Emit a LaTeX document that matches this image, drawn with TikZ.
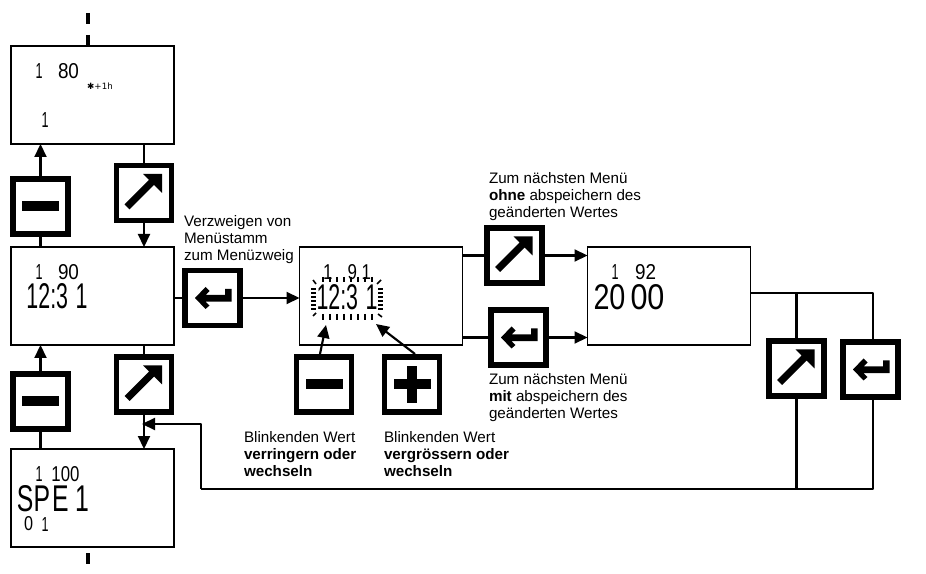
\documentclass[tikz,border=0pt]{standalone}
\usepackage{fontspec}
\usepackage{graphicx}
\usetikzlibrary{arrows.meta}
\setmainfont{Liberation Sans}
\newfontfamily\lcdf{Liberation Sans}
\newfontfamily\symf{DejaVu Sans}
\newlength{\px}\setlength{\px}{0.75pt}
\newcommand{\lcd}[6]{\node[lcdtxt] (#1) at (#2,#3) {\resizebox{#4\px}{#5\px}{\lcdf #6}};}
\tikzset{
  x=0.75pt,y=-0.75pt,
  screen/.style={draw=black,line width=1.1pt,fill=white,minimum width=122.25pt,minimum height=73.5pt,inner sep=0,outer sep=0},
  btn/.style={draw=black,line width=4.1pt,fill=white,minimum width=41.25pt,minimum height=41.25pt,inner sep=0,outer sep=0},
  wire/.style={draw=black,line width=1.6pt},
  arr/.style={wire,-{Triangle[length=9.75pt,width=9pt]}},
  lcdtxt/.style={inner sep=0,outer sep=0},
  note/.style={anchor=north west,inner sep=0,outer sep=0,align=left,font=\fontsize{11.4}{12.75}\selectfont},
  tick/.style={draw=black,line width=1.2pt},
  pics/minusicon/.style={code={\fill[black] (-18.5,-5) rectangle (18.5,5);}},
  pics/plusicon/.style={code={\fill[black] (-18.5,-5) rectangle (18.5,5);\fill[black] (-5,-18.5) rectangle (5,18.5);}},
  pics/upicon/.style={code={
    \fill[black] (18,-19) -- (-1,-19) -- (5,-13) -- (-19.5,11.5) -- (-14.5,16.5) -- (10,-8) -- (18,0) -- cycle;}},
  pics/entericon/.style={code={
    \fill[black] (-17.5,0) -- (-7,-11) -- (-3,-7) -- (-7,-3) -- (12.5,-3) -- (12.5,-9) -- (19,-9) -- (19,3.7) -- (-7,3.7) -- (-3,7.5) -- (-7,11) -- cycle;}}
}
\begin{document}
\begin{tikzpicture}
\useasboundingbox (0,0) rectangle (926,574);
% screens
\node[screen] (s1) at (92.5,95) {};
\node[screen] (s2) at (92.5,296) {};
\node[screen] (s3) at (92.5,498) {};
\node[screen] (s4) at (381,296) {};
\node[screen] (s5) at (669,296) {};
% buttons
\node[btn] (m1) at (40.5,206.5) {};
\node[btn] (u1) at (144,193) {};
\node[btn] (m2) at (40.5,401.5) {};
\node[btn] (u2) at (144,384.5) {};
\node[btn] (e1) at (212.5,298) {};
\node[btn] (m3) at (324,384.5) {};
\node[btn] (p1) at (412,384.5) {};
\node[btn] (u3) at (514.5,255.5) {};
\node[btn] (e2) at (518.5,337.5) {};
\node[btn] (u4) at (796.5,368.5) {};
\node[btn] (e4) at (870.5,369.5) {};
\pic at (m1) {minusicon};
\pic at (m2) {minusicon};
\pic at (m3) {minusicon};
\pic at (p1) {plusicon};
\pic at (u1) {upicon};
\pic at (u2) {upicon};
\pic at (u3) {upicon};
\pic at (u4) {upicon};
\pic at (e1) {entericon};
\pic at (e2) {entericon};
\pic at (e4) {entericon};
% free ends
\coordinate (d1a) at (88,13);
\coordinate (d1b) at (88,24);
\coordinate (d2a) at (88,35);
\coordinate (d3a) at (88,553);
\coordinate (d3b) at (88,564);
\coordinate (busS) at (751,293);
\coordinate (busE) at (873,293);
\coordinate (busB) at (873,489);
\coordinate (busL) at (201,489);
\coordinate (busU) at (201,424);
\coordinate (busT) at (142,424);
\coordinate (m3t) at (320,354);
\coordinate (m3h) at (326,325);
\coordinate (p1t) at (415,354);
\coordinate (p1h) at (376,324);
% connectors
\draw[wire,line width=2.4pt] (d1a) -- (d1b);
\draw[wire,line width=2.4pt] (d2a) -- (d2a |- s1.north);
\draw[wire,line width=2.4pt] (d3a) -- (d3b);
\draw[arr] (m1.north) -- (m1.north |- s1.south);
\draw[wire] (m1.south) -- (m1.south |- s2.north);
\draw[wire] (u1.north) -- (u1.north |- s1.south);
\draw[arr] (u1.south) -- (u1.south |- s2.north);
\draw[arr] (m2.north) -- (m2.north |- s2.south);
\draw[wire] (m2.south) -- (m2.south |- s3.north);
\draw[wire] (u2.north) -- (u2.north |- s2.south);
\draw[arr] (u2.south) -- (u2.south |- s3.north);
\draw[wire] (s2.east |- e1.west) -- (e1.west);
\draw[arr] (e1.east) -- (e1.east -| s4.west);
\draw[arr] (m3t) -- (m3h);
\draw[arr] (p1t) -- (p1h);
\draw[wire] (s4.east |- u3.west) -- (u3.west);
\draw[arr] (u3.east) -- (u3.east -| s5.west);
\draw[wire] (s4.east |- e2.west) -- (e2.west);
\draw[arr] (e2.east) -- (e2.east -| s5.west);
\draw[wire,line join=round] (busS) -- (busE) -- (busE |- e4.north);
\draw[wire] (u4.north |- busS) -- (u4.north);
\draw[wire] (u4.south) -- (u4.south |- busB);
\draw[wire,line join=round] (e4.south -| busB) -- (busB) -- (busL);
\draw[arr,line join=round] (busL) -- (busU) -- (busT);
% LCD readings
\lcd{a1}{39}{71}{7}{15}{1}
\lcd{a2}{68.5}{71}{21}{15}{80}
\node[lcdtxt,font=\symf\fontsize{6.5}{7}\selectfont] (a3) at (100,86) {✱+1h};
\lcd{a4}{45}{120.5}{7}{15}{1}
\lcd{b1}{39}{272}{7}{15}{1}
\lcd{b2}{68.5}{272}{21}{15}{90}
\lcd{b3}{57}{296.5}{61}{25}{12:3\kern0.35em 1}
\lcd{c1}{39}{474}{7}{15}{1}
\lcd{c2}{65.5}{474}{28}{15}{100}
\lcd{c3}{53}{498.5}{72}{26}{SP\kern0.08em E\kern0.27em 1}
\lcd{c4}{28.5}{524}{9}{14}{0}
\lcd{c5}{45}{524}{7}{14}{1}
\lcd{d1}{347}{272}{48}{15}{1\kern0.9em 9\kern0.27em 1}
\lcd{d2}{347}{297}{61}{25}{12:3\kern0.35em 1}
\lcd{f1}{615}{272.5}{7}{15}{1}
\lcd{f2}{645.5}{272.5}{21}{15}{92}
\lcd{f3}{609.5}{297}{32}{25}{20}
\lcd{f4}{647.5}{297}{34}{25}{00}
% blink ticks
\foreach \xx in {323,330,337,344,351,358,365,372} {
  \draw[tick] (\xx,277) -- (\xx,282);
  \draw[tick] (\xx,314) -- (\xx,320);
}
\foreach \yy in {289,293,297,301,305,309} {
  \draw[tick] (311,\yy) -- (316,\yy);
  \draw[tick] (378,\yy) -- (383,\yy);
}
\draw[tick] (313,280) -- (316,284);
\draw[tick] (381,280) -- (377,284);
\draw[tick] (313,316) -- (316,313);
\draw[tick] (378,314) -- (382,317);
% notes
\node[note] (n1) at (184,215) {Verzweigen von\\Menüstamm\\zum Menüzweig};
\node[note] (n2) at (489,172) {Zum nächsten Menü\\\textbf{ohne} abspeichern des\\geänderten Wertes};
\node[note] (n3) at (489,373) {Zum nächsten Menü\\\textbf{mit} abspeichern des\\geänderten Wertes};
\node[note] (n4) at (244,431) {Blinkenden Wert\\\textbf{verringern oder}\\\textbf{wechseln}};
\node[note] (n5) at (384,431) {Blinkenden Wert\\\textbf{vergrössern oder}\\\textbf{wechseln}};
\end{tikzpicture}
\end{document}
